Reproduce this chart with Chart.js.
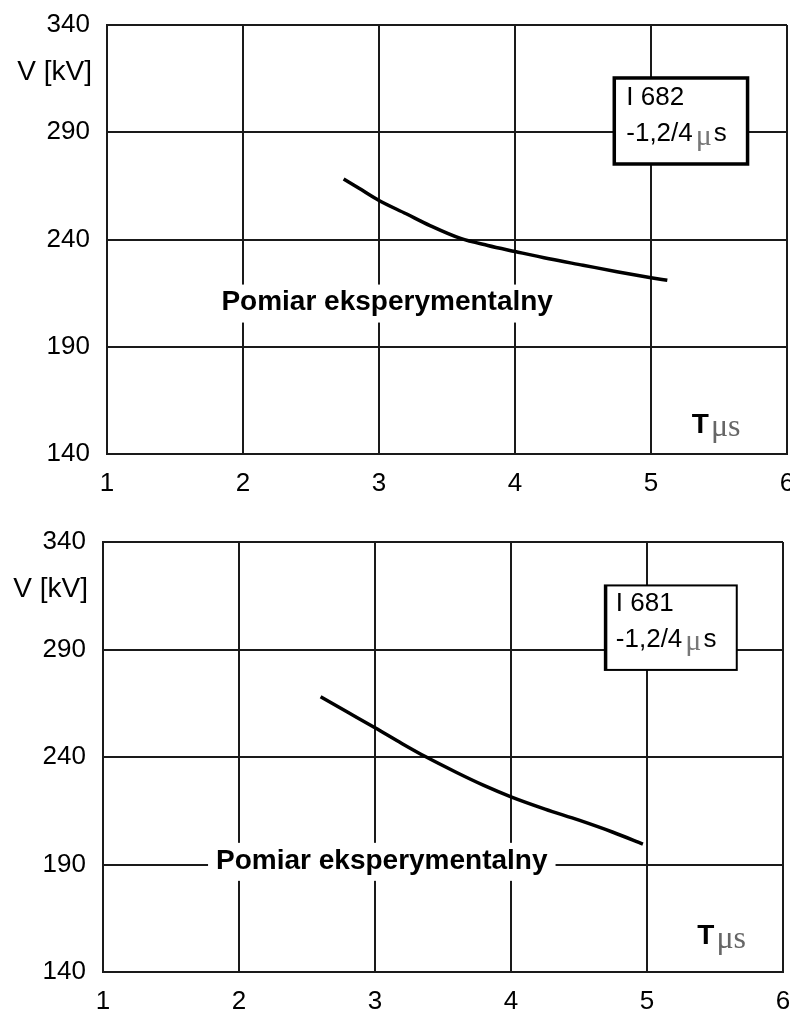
<!DOCTYPE html>
<html>
<head>
<meta charset="utf-8">
<script src="https://cdn.jsdelivr.net/npm/chart.js@4"></script>
<style>
  html, body { margin: 0; padding: 0; background: #fff; }
  #wrap { position: relative; width: 790px; height: 1015px; overflow: hidden; }
  .box { position: absolute; left: 0; width: 790px; }
</style>
</head>
<body>
<div id="wrap">
  <div class="box" style="top:0;height:505px"><canvas id="c1"></canvas></div>
  <div class="box" style="top:505px;height:510px"><canvas id="c2"></canvas></div>
</div>
<script>
// ---- data ----
const xTicks = [1, 2, 3, 4, 5, 6];
const yTicks = [140, 190, 240, 290, 340];

// Top chart (I 682)
const topT = [2.74, 2.85, 3.0, 3.2, 3.375, 3.6, 3.8, 4.0, 4.25, 4.5, 4.75, 5.0, 5.12];
const topV = [268.2, 264.0, 258.2, 252.0, 246.5, 240.5, 237.2, 234.4, 231.0, 228.0, 225.0, 222.2, 221.0];
const topLabel = ['I 682', '-1,2/4', 'μ', 's'];

// Bottom chart (I 681)
const botT = [2.6, 2.8, 3.0, 3.2, 3.37, 3.6, 3.8, 4.0, 4.25, 4.5, 4.75, 4.97];
const botV = [268.0, 260.8, 253.6, 246.2, 240.2, 232.8, 226.8, 221.5, 215.8, 210.6, 205.0, 199.5];
const botLabel = ['I 681', '-1,2/4', 'μ', 's'];

const curveName = 'Pomiar eksperymentalny';
const yAxisTitle = 'V [kV]';
const xAxisTitle = ['T', 'μs'];

const SANS = '"Liberation Sans", Arial, sans-serif';
const SERIF = '"Liberation Serif", "Times New Roman", serif';
const GRID = '#1a1a1a';

function makeChart(id, cfg) {
  const pts = cfg.T.map((t, i) => ({ x: t, y: cfg.V[i] }));
  const overlay = {
    id: 'overlay' + id,
    afterDraw(chart) {
      const { ctx, chartArea: ca } = chart;
      const xs = chart.scales.x, ys = chart.scales.y;
      const px = v => xs.getPixelForValue(v), py = v => ys.getPixelForValue(v);
      ctx.save();
      // Y-axis title
      ctx.fillStyle = '#000';
      ctx.font = '28px ' + SANS;
      ctx.textAlign = 'right';
      ctx.textBaseline = 'middle';
      ctx.fillText(yAxisTitle, ca.left - 15, py(cfg.yTitleV));

      // curve label with white background
      ctx.font = 'bold 28px ' + SANS;
      const w = ctx.measureText(curveName).width;
      const cx = px(cfg.nameX), cy = py(cfg.nameY);
      ctx.fillStyle = '#fff';
      ctx.fillRect(cx - w / 2 - cfg.namePad, cy - 18, w + 2 * cfg.namePad, 38);
      ctx.fillStyle = '#000';
      ctx.textAlign = 'center';
      ctx.fillText(curveName, cx, cy);

      // annotation box
      const bx0 = px(cfg.box[0]), bx1 = px(cfg.box[1]);
      const by0 = py(cfg.box[2]), by1 = py(cfg.box[3]);
      ctx.fillStyle = '#fff';
      ctx.fillRect(bx0, by0, bx1 - bx0, by1 - by0);
      ctx.strokeStyle = '#000';
      ctx.lineWidth = cfg.boxLW;
      ctx.strokeRect(bx0, by0, bx1 - bx0, by1 - by0);
      if (cfg.leftThick) {
        ctx.lineWidth = 3;
        ctx.beginPath(); ctx.moveTo(bx0 + 1, by0); ctx.lineTo(bx0 + 1, by1); ctx.stroke();
      }
      ctx.textAlign = 'left';
      ctx.fillStyle = '#000';
      ctx.font = '26px ' + SANS;
      const tx = bx0 + cfg.textInset;
      ctx.fillText(cfg.label[0], tx, by0 + cfg.line1);
      let x2 = tx;
      const l2 = by0 + cfg.line2;
      ctx.fillText(cfg.label[1], x2, l2);
      x2 += ctx.measureText(cfg.label[1]).width + 3;
      ctx.font = '30px ' + SERIF;
      ctx.fillStyle = '#777';
      ctx.fillText(cfg.label[2], x2, l2 + 3);
      x2 += ctx.measureText(cfg.label[2]).width + 2;
      ctx.font = '26px ' + SANS;
      ctx.fillStyle = '#000';
      ctx.fillText(cfg.label[3], x2, l2);

      // x-axis title  T μs
      const t0 = px(cfg.tX), t1 = py(cfg.tY);
      ctx.font = 'bold 28px ' + SANS;
      ctx.fillText(xAxisTitle[0], t0, t1);
      const tw = ctx.measureText(xAxisTitle[0]).width;
      ctx.font = '32px ' + SERIF;
      ctx.fillStyle = '#666';
      ctx.fillText(xAxisTitle[1], t0 + tw + 2, t1 + 3);
      ctx.restore();
    }
  };

  return new Chart(document.getElementById(id), {
    type: 'scatter',
    data: {
      datasets: [{
        label: curveName,
        data: pts,
        showLine: true,
        borderColor: '#000',
        borderWidth: 3.5,
        pointRadius: 0,
        cubicInterpolationMode: 'monotone',
        fill: false
      }]
    },
    options: {
      responsive: true,
      maintainAspectRatio: false,
      animation: false,
      events: [],
      layout: { padding: { left: 0, top: cfg.padTop, right: cfg.padRight, bottom: 0 } },
      plugins: { legend: { display: false }, tooltip: { enabled: false } },
      scales: {
        x: {
          type: 'linear', min: 1, max: 6,
          afterBuildTicks: s => { s.ticks = xTicks.map(v => ({ value: v })); },
          afterFit: s => { s.height = cfg.xH; s.paddingLeft = 0; s.paddingRight = 0; },
          grid: { color: GRID, lineWidth: 2, drawTicks: false },
          border: { display: true, color: GRID, width: 2 },
          ticks: { color: '#000', padding: 14, font: { family: SANS, size: 26 }, maxRotation: 0 }
        },
        y: {
          type: 'linear', min: 140, max: 340,
          afterBuildTicks: s => { s.ticks = yTicks.map(v => ({ value: v })); },
          afterFit: s => { s.width = cfg.yW; s.paddingTop = 0; s.paddingBottom = 0; },
          grid: { color: GRID, lineWidth: 2, drawTicks: false },
          border: { display: true, color: GRID, width: 2 },
          ticks: { color: '#000', padding: 17, font: { family: SANS, size: 26 } }
        }
      }
    },
    plugins: [overlay]
  });
}

makeChart('c1', {
  T: topT, V: topV, label: topLabel,
  padTop: 25, padRight: 3, xH: 51, yW: 107,
  yTitleV: 318,
  nameX: 3.06, nameY: 210.6, namePad: 8,
  box: [4.73, 5.71, 315.3, 275.2], boxLW: 3.5, leftThick: false,
  textInset: 12, line1: 20, line2: 56,
  tX: 5.30, tY: 153.6
});

makeChart('c2', {
  T: botT, V: botV, label: botLabel,
  padTop: 37, padRight: 7, xH: 43, yW: 103,
  yTitleV: 318,
  nameX: 3.05, nameY: 191.7, namePad: 8,
  box: [4.69, 5.66, 319.8, 280.5], boxLW: 2, leftThick: true,
  textInset: 11, line1: 18, line2: 54,
  tX: 5.37, tY: 156.6
});
</script>
</body>
</html>
